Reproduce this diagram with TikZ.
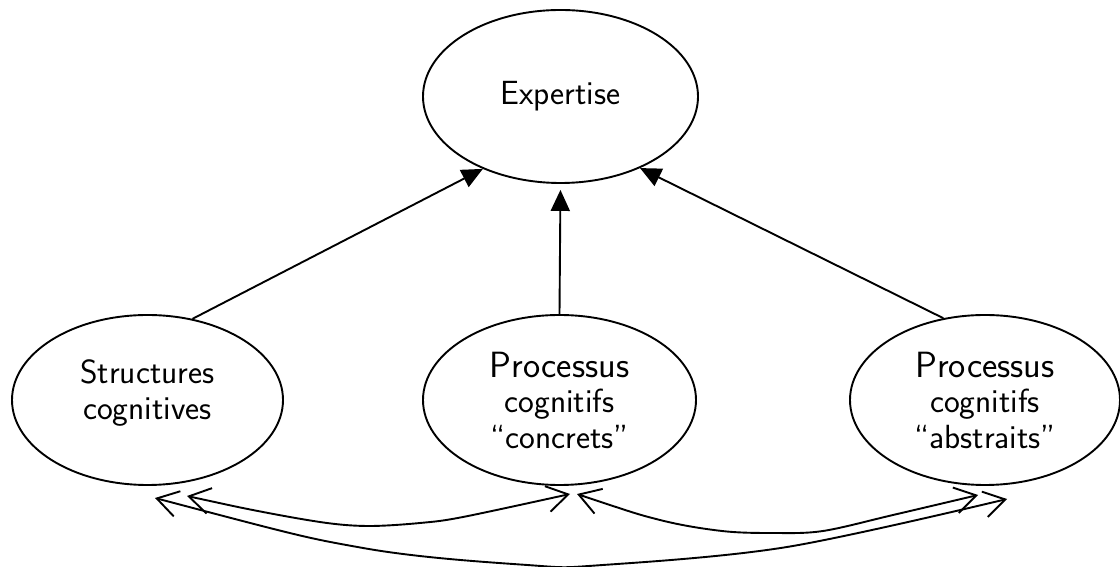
\documentclass[tikz,border=0pt]{standalone}
\usetikzlibrary{shapes.geometric,arrows.meta}
\begin{document}
\begin{tikzpicture}[x=1pt,y=1pt,
  ctext/.style={font=\sffamily\fontsize{33.5}{35.5}\selectfont, align=center, inner sep=0pt},
  concept/.style={ctext, draw, ellipse, line width=1.9pt, minimum width=273pt, minimum height=170pt},
  influence/.style={line width=1.9pt, -{Triangle[length=21pt,width=19pt]}},
  exchange/.style={line width=1.9pt, {Straight Barb[length=21pt,width=26pt]}-{Straight Barb[length=21pt,width=26pt]}},
]
\useasboundingbox (0,0) rectangle (1120,567);

% the four concepts
\node[concept, minimum width=275pt, minimum height=173pt] (E) at (560.5,470.5) {Expertise};
\node[concept, minimum width=271pt] (S) at (147.5,167) {};
\node[ctext, yshift=7pt] (St) at (S) {Structures\\cognitives};
\node[concept] (M) at (559.5,167)
  {{\fontsize{36.5}{35.5}\selectfont Processus}\\cognitifs\\“concrets”};
\node[concept, minimum width=270pt] (R) at (985,167)
  {{\fontsize{36.5}{35.5}\selectfont Processus}\\cognitifs\\“abstraits”};

% contributions to expertise
\draw[influence] (S.61) -- (E.223);
\draw[influence, shorten >=6pt] (M.north) -- (E.south);
\draw[influence] (R.117) -- (E.318);

% ends of the mutual links below the concepts
\coordinate (a) at (155,69);
\coordinate (b) at (187,71);
\coordinate (c) at (570,73);
\coordinate (d) at (577,73);
\coordinate (f) at (978,72);
\coordinate (g) at (1007,68);

% mutual links
\draw[exchange] plot[smooth, tension=0.55] coordinates
  {(b) (263,55) (327,44) (370,41) (420,44) (463,50) (c)};
\draw[exchange] plot[smooth, tension=0.55] coordinates
  {(d) (660,47) (722,36) (773,34) (823,36) (893,52) (f)};
\draw[exchange] plot[smooth, tension=0.55] coordinates
  {(a) (363,19) (530,1.8) (600,1.8) (787,20) (g)};
\end{tikzpicture}
\end{document}
